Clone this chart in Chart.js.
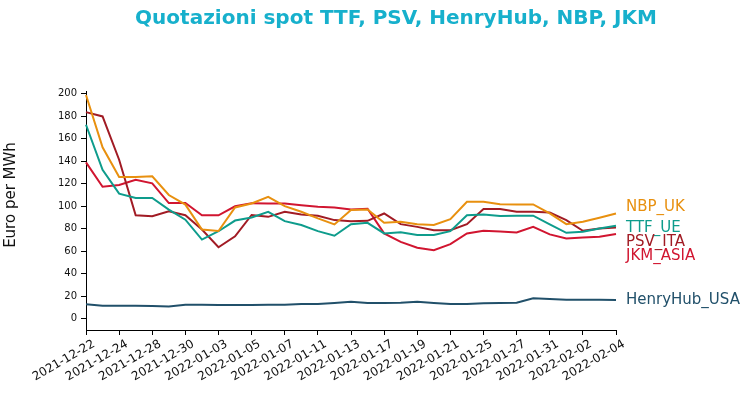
<!DOCTYPE html>
<html>
<head>
<meta charset="utf-8">
<script src="https://cdn.jsdelivr.net/npm/chart.js@4/dist/chart.umd.min.js"></script>
<style>
  html, body { margin: 0; padding: 0; background: #fff; }
  canvas { display: block; }
</style>
</head>
<body>
<canvas id="spotChart" width="740" height="395"></canvas>
<script>
// trading days shown on the x axis
const dates = [
    '2021-12-22', '2021-12-23', '2021-12-24', '2021-12-27', '2021-12-28', '2021-12-29', '2021-12-30', '2021-12-31',
    '2022-01-03', '2022-01-04', '2022-01-05', '2022-01-06', '2022-01-07', '2022-01-10', '2022-01-11', '2022-01-12',
    '2022-01-13', '2022-01-14', '2022-01-17', '2022-01-18', '2022-01-19', '2022-01-20', '2022-01-21', '2022-01-24',
    '2022-01-25', '2022-01-26', '2022-01-27', '2022-01-28', '2022-01-31', '2022-02-01', '2022-02-02', '2022-02-03',
    '2022-02-04'
];

// Euro per MWh
const nbpUk = [199, 152.4, 126, 126, 126.6, 110, 101.5, 79.3, 78, 99, 102.5, 108.4, 100.1, 95.1, 89.2, 83.9,
    96.6, 97.2, 85.3, 86.2, 84.1, 83.3, 88.6, 104, 104, 101.9, 101.6, 101.6, 93.6, 84.1, 86.2, 89.8, 93.6];
const ttfUe = [172.5, 132.5, 111.2, 107.4, 107.4, 97, 88.1, 70.4, 77.8, 87.3, 90, 95.1, 86.8, 83.3, 77.9, 73.8,
    84.1, 85.3, 75.9, 76.8, 74.4, 74.4, 77.9, 92.1, 92.7, 91.3, 91.6, 91.6, 83.9, 76.4, 77.3, 80.3, 82.7];
const psvIta = [183.7, 179.9, 141.4, 92, 91.1, 95.5, 92, 79.3, 63.6, 73.3, 92.3, 90.6, 95.1, 92.7, 91.6, 87.7,
    86.8, 87.1, 93.6, 84.1, 81.7, 78.8, 78.8, 84.1, 97.5, 97.5, 95.1, 95.1, 94.5, 87.7, 78.2, 80.3, 81.2];
const jkmAsia = [139, 117.4, 118.9, 123.6, 120.4, 102.9, 102.9, 92, 92, 100, 102.8, 102.5, 102.5, 101, 99.6, 99,
    97.2, 97.8, 75.9, 68.4, 63.1, 61, 66.4, 75.9, 78.2, 77.6, 76.7, 81.8, 75, 71.4, 72.3, 72.9, 75.3];
const henryHubUsa = [12.8, 11.6, 11.6, 11.6, 11.3, 11, 12.5, 12.5, 12.2, 12.2, 12.2, 12.5, 12.5, 13.1, 13.1, 14,
    15.2, 14, 14, 14.3, 15.2, 14, 13.1, 13.1, 13.7, 14, 14.3, 18.2, 17.6, 17, 17, 17, 16.7];

const seriesNames = ['NBP_UK', 'TTF_UE', 'PSV_ITA', 'JKM_ASIA', 'HenryHub_USA'];
const seriesColors = ['#e8900f', '#0e9c8c', '#a11b24', '#d11530', '#21506a'];
// where the end-of-line names sit, in Euro per MWh (spread apart so they don't collide)
const nameLevels = [99.6, 80.3, 68.4, 56, 16.6];

const yTicks = [0, 20, 40, 60, 80, 100, 120, 140, 160, 180, 200];

const chartTitle = 'Quotazioni spot TTF, PSV, HenryHub, NBP, JKM';
const yTitle = 'Euro per MWh';

const FONT = "'DejaVu Sans', sans-serif";

const textPlugin = {
    id: 'textPlugin',
    afterDraw(chart) {
        const ctx = chart.ctx;
        const area = chart.chartArea;
        const y = chart.scales.y;
        ctx.save();
        // main title
        ctx.fillStyle = '#17b0cc';
        ctx.font = 'bold 20px ' + FONT;
        ctx.textAlign = 'center';
        ctx.textBaseline = 'alphabetic';
        ctx.fillText(chartTitle, 396, 24);
        // y axis title
        ctx.save();
        ctx.translate(11, 195);
        ctx.rotate(-Math.PI / 2);
        ctx.fillStyle = '#111';
        ctx.font = '15px ' + FONT;
        ctx.textAlign = 'center';
        ctx.textBaseline = 'middle';
        ctx.fillText(yTitle, 0, 0);
        ctx.restore();
        // series names at the end of the lines
        ctx.font = '15px ' + FONT;
        ctx.textAlign = 'left';
        ctx.textBaseline = 'middle';
        seriesNames.forEach((name, i) => {
            ctx.fillStyle = seriesColors[i];
            ctx.fillText(name, area.right + 10, y.getPixelForValue(nameLevels[i]));
        });
        ctx.restore();
    }
};

const makeSet = (label, data, i) => ({
    label: label,
    data: data,
    borderColor: seriesColors[i],
    backgroundColor: seriesColors[i],
    borderWidth: 2,
    pointRadius: 0,
    tension: 0,
    fill: false
});

new Chart(document.getElementById('spotChart').getContext('2d'), {
    type: 'line',
    data: {
        labels: dates,
        datasets: [
            makeSet('NBP_UK', nbpUk, 0),
            makeSet('TTF_UE', ttfUe, 1),
            makeSet('PSV_ITA', psvIta, 2),
            makeSet('JKM_ASIA', jkmAsia, 3),
            makeSet('HenryHub_USA', henryHubUsa, 4)
        ]
    },
    options: {
        responsive: false,
        animation: false,
        devicePixelRatio: 1,
        layout: { padding: { top: 91, right: 124, left: 0, bottom: 0 } },
        plugins: {
            legend: { display: false },
            title: { display: false },
            tooltip: { enabled: false }
        },
        scales: {
            x: {
                offset: false,
                border: { display: true, color: '#000', width: 1 },
                grid: { drawOnChartArea: false, drawTicks: true, tickLength: 5, color: '#000' },
                ticks: {
                    autoSkip: false,
                    minRotation: 30,
                    maxRotation: 30,
                    labelOffset: 8,
                    padding: 2,
                    color: '#111',
                    font: (c) => ({ family: FONT, size: 12, weight: c.index === dates.length - 1 ? 'bold' : 'normal' }),
                    callback: function (value, index) {
                        return index % 2 === 0 ? dates[index] : null;
                    }
                },
                afterFit: (scale) => { scale.height = 65; }
            },
            y: {
                min: -10,
                max: 202.5,
                border: { display: true, color: '#000', width: 1 },
                grid: { drawOnChartArea: false, drawTicks: true, tickLength: 5, color: '#000' },
                ticks: {
                    padding: 4,
                    color: '#111',
                    font: { family: FONT, size: 10 }
                },
                afterBuildTicks: (scale) => { scale.ticks = yTicks.map(v => ({ value: v })); },
                afterFit: (scale) => { scale.width = 86; }
            }
        }
    },
    plugins: [textPlugin]
});
</script>
</body>
</html>
